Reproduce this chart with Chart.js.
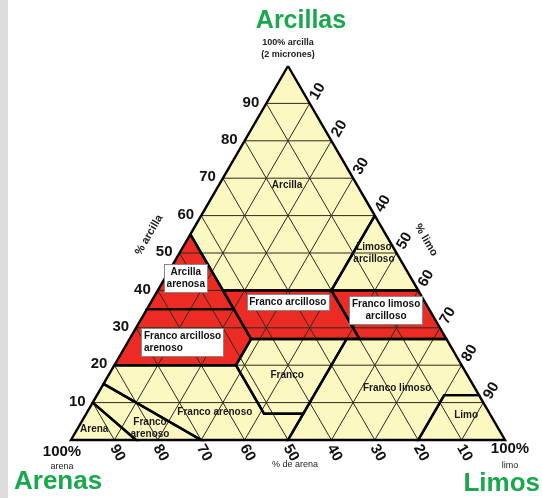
<!DOCTYPE html>
<html>
<head>
<meta charset="utf-8">
<script src="https://cdn.jsdelivr.net/npm/chart.js@4.4.1/dist/chart.umd.min.js"></script>
<style>
html, body { margin: 0; padding: 0; background: #fff; }
#wrap { position: relative; width: 542px; height: 498px; }
#franja { position: absolute; left: 0; top: 0; width: 8px; height: 498px; background: #dcdcdc; }
canvas { position: absolute; left: 0; top: 0; }
</style>
</head>
<body>
<div id="wrap">
  <div id="franja"></div>
  <canvas id="textura" width="542" height="498"></canvas>
</div>
<script>
// Clases texturales (USDA), vértices en [% limo, % arcilla]
const clases = ['Arcilla', 'Limoso arcilloso', 'Arcilla arenosa', 'Franco arcilloso', 'Franco limoso arcilloso',
    'Franco arcilloso arenoso', 'Franco', 'Franco limoso', 'Limo', 'Franco arenoso', 'Areno franco', 'Arena'];
const poligonos = [
    [[0, 100], [40, 60], [40, 40], [15, 40], [0, 55]],
    [[40, 60], [60, 40], [40, 40]],
    [[0, 55], [15, 40], [20, 35], [0, 35]],
    [[15, 40], [40, 40], [53, 27], [28, 27]],
    [[40, 40], [60, 40], [73, 27], [53, 27]],
    [[0, 35], [20, 35], [28, 27], [28, 20], [0, 20]],
    [[28, 27], [50, 27], [50, 7], [41, 7], [28, 20]],
    [[50, 27], [73, 27], [88, 12], [80, 12], [80, 0], [50, 0], [50, 7]],
    [[88, 12], [100, 0], [80, 0], [80, 12]],
    [[0, 20], [28, 20], [41, 7], [50, 7], [50, 0], [30, 0], [0, 15]],
    [[0, 15], [30, 0], [15, 0], [0, 10]],
    [[0, 10], [15, 0], [0, 0]]
];
const rojas = ['Arcilla arenosa', 'Franco arcilloso', 'Franco limoso arcilloso', 'Franco arcilloso arenoso'];

// Marcas de los ejes
const ticksArcilla = [10, 20, 30, 40, 50, 60, 70, 80, 90];
const ticksLimo = [10, 20, 30, 40, 50, 60, 70, 80, 90];
const ticksArena = [90, 80, 70, 60, 50, 40, 30, 20, 10];

// Rótulos dentro del triángulo: texto, % limo, % arcilla, con caja o no
const rotulos = ['Arcilla', 'Limoso\narcilloso', 'Arcilla\narenosa', 'Franco arcilloso', 'Franco limoso\narcilloso',
    'Franco arcilloso\narenoso', 'Franco', 'Franco limoso', 'Limo', 'Franco arenoso', 'Franco\narenoso', 'Arena'];
const rotuloLimo = [15.7, 44.8, 4.8, 31.5, 55.2, 12.5, 41.1, 68.2, 87.7, 29.4, 16.6, 3.9];
const rotuloArcilla = [68.2, 50, 43.3, 36.9, 34.8, 26.2, 17.4, 13.9, 6.7, 7.5, 3.2, 2.9];
const rotuloCaja = [false, false, true, true, true, true, false, false, false, false, false, false];

const AMARILLO = '#fcf8c2';
const ROJO = '#ec2b25';
const VERDE = '#19a84c';
const FUENTE = '"Liberation Sans", Arial, sans-serif';

// limo + arcilla -> coordenadas del gráfico
function pt(limo, arcilla) {
    return { x: limo + arcilla / 2, y: arcilla };
}

const datasets = [];

// relleno de cada clase
poligonos.forEach((pol, i) => {
    const datos = pol.map(p => pt(p[0], p[1]));
    datos.push(datos[0]);
    datasets.push({
        label: clases[i],
        data: datos,
        showLine: true,
        pointRadius: 0,
        borderWidth: 0,
        borderColor: 'rgba(0,0,0,0)',
        backgroundColor: rojas.includes(clases[i]) ? ROJO : AMARILLO,
        fill: 'shape',
        order: 3,
        clip: false
    });
});

// cuadrícula cada 10 %
for (let k = 10; k < 100; k += 10) {
    const lineas = [
        [pt(0, k), pt(100 - k, k)],          // arcilla constante
        [pt(k, 0), pt(k, 100 - k)],          // limo constante
        [pt(100 - k, 0), pt(0, 100 - k)]     // arena constante
    ];
    lineas.forEach(l => datasets.push({
        data: l,
        showLine: true,
        pointRadius: 0,
        borderWidth: 1,
        borderColor: '#2e2b1c',
        fill: false,
        order: 2,
        clip: false
    }));
}

// límites de las clases
poligonos.forEach(pol => {
    const datos = pol.map(p => pt(p[0], p[1]));
    datos.push(datos[0]);
    datasets.push({
        data: datos,
        showLine: true,
        pointRadius: 0,
        borderWidth: 2.4,
        borderColor: '#000',
        borderJoinStyle: 'miter',
        fill: false,
        order: 1,
        clip: false
    });
});

function texto(ctx, t, x, y, fuente, color, align, rot) {
    ctx.save();
    ctx.translate(x, y);
    if (rot) ctx.rotate(rot * Math.PI / 180);
    ctx.font = fuente;
    ctx.fillStyle = color;
    ctx.textAlign = align || 'center';
    ctx.textBaseline = 'middle';
    ctx.fillText(t, 0, 0);
    ctx.restore();
}

const textos = {
    id: 'textos',
    afterDraw(chart) {
        const ctx = chart.ctx;
        const xs = chart.scales.x, ys = chart.scales.y;
        const px = (limo, arcilla) => ({
            x: xs.getPixelForValue(limo + arcilla / 2),
            y: ys.getPixelForValue(arcilla)
        });
        const fNum = 'bold 15px ' + FUENTE;

        ticksArcilla.forEach(v => {
            const p = px(0, v);
            texto(ctx, String(v), p.x - 7, p.y - 1, fNum, '#111', 'right');
        });
        ticksLimo.forEach(v => {
            const p = px(v, 100 - v);
            texto(ctx, String(v), p.x + 8, p.y - 12, fNum, '#111', 'center', -60);
        });
        ticksArena.forEach(v => {
            const p = px(100 - v, 0);
            texto(ctx, String(v), p.x + 3, p.y + 13, fNum, '#111', 'center', 60);
        });

        // rótulos de las clases
        ctx.save();
        ctx.font = 'bold 10px ' + FUENTE;
        rotulos.forEach((r, i) => {
            const p = px(rotuloLimo[i], rotuloArcilla[i]);
            const lineas = r.split('\n');
            const alto = 12;
            const izq = r.startsWith('Franco arcilloso\n');
            if (rotuloCaja[i]) {
                const ancho = Math.max(...lineas.map(l => ctx.measureText(l).width)) + 5;
                const h = lineas.length * alto + 4;
                ctx.fillStyle = '#fff';
                ctx.fillRect(Math.round(p.x - ancho / 2), Math.round(p.y - h / 2), Math.round(ancho), h);
                ctx.strokeStyle = '#888';
                ctx.lineWidth = 1;
                ctx.strokeRect(Math.round(p.x - ancho / 2) + 0.5, Math.round(p.y - h / 2) + 0.5, Math.round(ancho), h);
                lineas.forEach((l, j) => {
                    const y = p.y - (lineas.length - 1) * alto / 2 + j * alto;
                    if (izq) texto(ctx, l, p.x - ancho / 2 + 3, y, ctx.font, '#111', 'left');
                    else texto(ctx, l, p.x, y, ctx.font, '#111', 'center');
                });
            } else {
                lineas.forEach((l, j) => {
                    const y = p.y - (lineas.length - 1) * alto / 2 + j * alto;
                    texto(ctx, l, p.x, y, ctx.font, '#1a1a1a', 'center');
                });
            }
        });
        ctx.restore();

        // títulos y vértices
        const apice = px(0, 100);
        texto(ctx, 'Arcillas', apice.x + 13, 21, 'bold 25px ' + FUENTE, VERDE);
        texto(ctx, '100% arcilla', apice.x, 43, 'bold 9px ' + FUENTE, '#222');
        texto(ctx, '(2 micrones)', apice.x, 55, 'bold 9px ' + FUENTE, '#222');
        texto(ctx, '% arcilla', 149, 235, 'bold 11px ' + FUENTE, '#222', 'center', -60);
        texto(ctx, '% limo', 426, 240, 'bold 11px ' + FUENTE, '#222', 'center', 60);
        const base = px(50, 0);
        texto(ctx, '% de arena', base.x + 7, 465, '9px ' + FUENTE, '#222');
        texto(ctx, '100%', 62, 452, 'bold 15px ' + FUENTE, '#111');
        texto(ctx, 'arena', 62, 467, '9px ' + FUENTE, '#222');
        texto(ctx, '100%', 510, 449, 'bold 15px ' + FUENTE, '#111');
        texto(ctx, 'limo', 510, 466, '9px ' + FUENTE, '#222');
        texto(ctx, 'Arenas', 14, 482, 'bold 26px ' + FUENTE, VERDE, 'left');
        texto(ctx, 'Limos', 540, 484, 'bold 26px ' + FUENTE, VERDE, 'right');
    }
};

const grafico = new Chart(document.getElementById('textura').getContext('2d'), {
    type: 'scatter',
    data: { datasets: datasets },
    options: {
        responsive: false,
        animation: false,
        devicePixelRatio: 1,
        layout: { padding: { left: 71, right: 37, top: 66, bottom: 58 } },
        scales: {
            x: { type: 'linear', min: 0, max: 100, display: false },
            y: { type: 'linear', min: 0, max: 100, display: false }
        },
        plugins: {
            legend: { display: false },
            tooltip: { enabled: false }
        }
    },
    plugins: [textos]
});
</script>
</body>
</html>
